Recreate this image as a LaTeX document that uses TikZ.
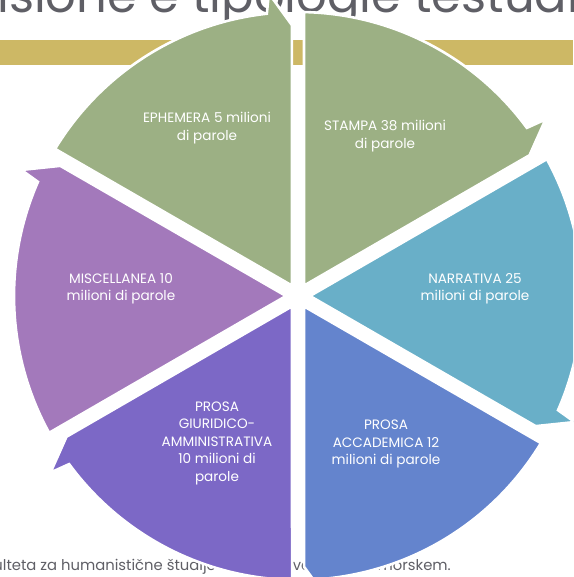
\documentclass[tikz,border=0pt]{standalone}
\usepackage{fontspec}
\setmainfont{Poppins}
\definecolor{sage}{RGB}{156,176,132}
\definecolor{sky}{RGB}{105,175,200}
\definecolor{cornflower}{RGB}{100,132,205}
\definecolor{iris}{RGB}{124,104,198}
\definecolor{orchid}{RGB}{163,121,187}
\definecolor{gold}{RGB}{205,184,101}
\definecolor{slate}{RGB}{95,95,102}
\begin{document}
\begin{tikzpicture}[x=1pt,y=1pt,
    seg/.style={fill=#1,draw=white,line width=2.6pt,line join=miter},
    pics/segment/.style={code={
        \filldraw[seg=#1] (60:12) -- (88.8:284) arc[start angle=88.8,end angle=36.3,radius=284]
          -- (35.5:304) -- (31.3:271) -- cycle;}},
    lbl/.style={text=white,align=center,font=\fontsize{13.6}{17.5}\selectfont}]
  \useasboundingbox (0,0) rectangle (573,577);
  \clip (0,0) rectangle (573,577);
  \fill[gold] (0,512) rectangle (573,537);
  \node[text=slate,font=\fontsize{48}{48}\selectfont,anchor=base west,inner sep=0pt] (title) at (-3,564) {isione e tipologie testuali};
  \node[text=slate,font=\fontsize{14.8}{16}\selectfont,anchor=base east,inner sep=0pt] (foot) at (451,6) {Fakulteta za humanistične študije Koper, Univerza na Primorskem.};

  \coordinate (c) at (298,281);
  \pic[rotate=0] at (c) {segment=sage};
  \pic[rotate=-60] at (c) {segment=sky};
  \pic[rotate=-120] at (c) {segment=cornflower};
  \pic[rotate=-180] at (c) {segment=iris};
  \pic[rotate=-240] at (c) {segment=orchid};
  \pic[rotate=-300] at (c) {segment=sage};

  \node[lbl] (ephem) at (207,449) {EPHEMERA 5 milioni\\di parole};
  \node[lbl] (stampa) at (385,441) {STAMPA 38 milioni\\di parole};
  \node[lbl] (narr) at (475,288) {NARRATIVA 25\\milioni di parole};
  \node[lbl] (accad) at (386,133) {PROSA\\ACCADEMICA 12\\milioni di parole};
  \node[lbl] (giurid) at (217,134) {PROSA\\GIURIDICO-\\AMMINISTRATIVA\\10 milioni di\\parole};
  \node[lbl] (misc) at (121,288) {MISCELLANEA 10\\milioni di parole};
\end{tikzpicture}
\end{document}
